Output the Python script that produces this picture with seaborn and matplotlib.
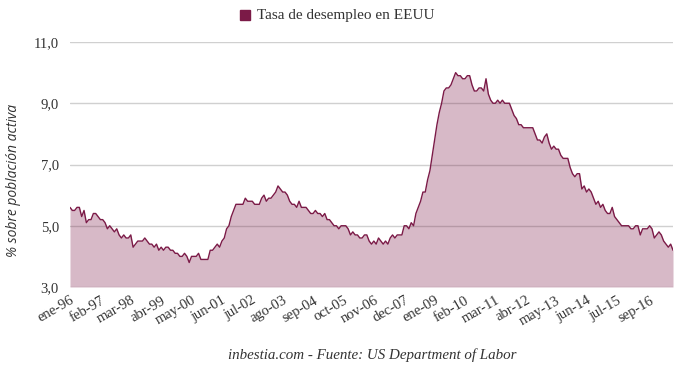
import numpy as np
import pandas as pd
import matplotlib
matplotlib.use("Agg")
import matplotlib.pyplot as plt
import seaborn as sns

# Monthly US unemployment rate, Jan 1996 - Jul 2017
rate = [
    5.6, 5.5, 5.5, 5.6, 5.6, 5.3, 5.5, 5.1, 5.2, 5.2, 5.4, 5.4,   # 1996
    5.3, 5.2, 5.2, 5.1, 4.9, 5.0, 4.9, 4.8, 4.9, 4.7, 4.6, 4.7,   # 1997
    4.6, 4.6, 4.7, 4.3, 4.4, 4.5, 4.5, 4.5, 4.6, 4.5, 4.4, 4.4,   # 1998
    4.3, 4.4, 4.2, 4.3, 4.2, 4.3, 4.3, 4.2, 4.2, 4.1, 4.1, 4.0,   # 1999
    4.0, 4.1, 4.0, 3.8, 4.0, 4.0, 4.0, 4.1, 3.9, 3.9, 3.9, 3.9,   # 2000
    4.2, 4.2, 4.3, 4.4, 4.3, 4.5, 4.6, 4.9, 5.0, 5.3, 5.5, 5.7,   # 2001
    5.7, 5.7, 5.7, 5.9, 5.8, 5.8, 5.8, 5.7, 5.7, 5.7, 5.9, 6.0,   # 2002
    5.8, 5.9, 5.9, 6.0, 6.1, 6.3, 6.2, 6.1, 6.1, 6.0, 5.8, 5.7,   # 2003
    5.7, 5.6, 5.8, 5.6, 5.6, 5.6, 5.5, 5.4, 5.4, 5.5, 5.4, 5.4,   # 2004
    5.3, 5.4, 5.2, 5.2, 5.1, 5.0, 5.0, 4.9, 5.0, 5.0, 5.0, 4.9,   # 2005
    4.7, 4.8, 4.7, 4.7, 4.6, 4.6, 4.7, 4.7, 4.5, 4.4, 4.5, 4.4,   # 2006
    4.6, 4.5, 4.4, 4.5, 4.4, 4.6, 4.7, 4.6, 4.7, 4.7, 4.7, 5.0,   # 2007
    5.0, 4.9, 5.1, 5.0, 5.4, 5.6, 5.8, 6.1, 6.1, 6.5, 6.8, 7.3,   # 2008
    7.8, 8.3, 8.7, 9.0, 9.4, 9.5, 9.5, 9.6, 9.8, 10.0, 9.9, 9.9,  # 2009
    9.8, 9.8, 9.9, 9.9, 9.6, 9.4, 9.4, 9.5, 9.5, 9.4, 9.8, 9.3,   # 2010
    9.1, 9.0, 9.0, 9.1, 9.0, 9.1, 9.0, 9.0, 9.0, 8.8, 8.6, 8.5,   # 2011
    8.3, 8.3, 8.2, 8.2, 8.2, 8.2, 8.2, 8.0, 7.8, 7.8, 7.7, 7.9,   # 2012
    8.0, 7.7, 7.5, 7.6, 7.5, 7.5, 7.3, 7.2, 7.2, 7.2, 6.9, 6.7,   # 2013
    6.6, 6.7, 6.7, 6.2, 6.3, 6.1, 6.2, 6.1, 5.9, 5.7, 5.8, 5.6,   # 2014
    5.7, 5.5, 5.4, 5.4, 5.6, 5.3, 5.2, 5.1, 5.0, 5.0, 5.0, 5.0,   # 2015
    4.9, 4.9, 5.0, 5.0, 4.7, 4.9, 4.9, 4.9, 5.0, 4.9, 4.6, 4.7,   # 2016
    4.8, 4.7, 4.5, 4.4, 4.3, 4.4, 4.2,                            # 2017
]
tick_labels = ["ene-96", "feb-97", "mar-98", "abr-99", "may-00", "jun-01",
               "jul-02", "ago-03", "sep-04", "oct-05", "nov-06", "dec-07",
               "ene-09", "feb-10", "mar-11", "abr-12", "may-13", "jun-14",
               "jul-15", "sep-16"]
tick_months = [0, 13, 26, 39, 52, 65, 78, 91, 104, 117, 130, 143,
               156, 169, 182, 195, 208, 221, 234, 248]
y_ticks = [3.0, 5.0, 7.0, 9.0, 11.0]

series_name = "Tasa de desempleo en EEUU"
df = pd.DataFrame({"mes": np.arange(len(rate)), "tasa": rate})

sns.set_theme(style="white")
plt.rcParams["font.family"] = ["Liberation Serif", "DejaVu Serif"]

color = "#7b1a47"
fig = plt.figure(figsize=(6.8, 3.7), dpi=100)
ax = fig.add_axes([70 / 680, 1 - 287 / 370, 603 / 680, 245 / 370])

for yt in y_ticks:
    ax.axhline(yt, color="#d0d0d0", lw=1, zorder=0)

ax.fill_between(df["mes"], df["tasa"], 3.0, color=color, alpha=0.3, lw=0, zorder=1)
sns.lineplot(data=df, x="mes", y="tasa", ax=ax, color=color, lw=1, zorder=2,
             legend=False)

ax.set_xlim(0, len(rate) - 1)
ax.set_ylim(3.0, 11.0)
ax.set_yticks(y_ticks)
ax.set_yticklabels([f"{v:.1f}".replace(".", ",") for v in y_ticks],
                   fontsize=10.5, color="#333333")
ax.set_xticks(tick_months)
ax.set_xticklabels(tick_labels, rotation=30, ha="right",
                   rotation_mode="anchor", fontsize=10.5, color="#333333")
ax.tick_params(axis="y", length=0, pad=8)
ax.tick_params(axis="x", length=0, pad=5)
for s in ax.spines.values():
    s.set_visible(False)
ax.set_xlabel("")
ax.set_ylabel("")
fig.text(14 / 680, 1 - 180 / 370, "% sobre población activa", rotation=90,
         fontsize=10, style="italic", family=["Open Sans", "DejaVu Sans"],
         color="#333333", ha="center", va="center")

# legend
fig.patches.append(plt.Rectangle((240 / 680, 1 - 20 / 370), 10 / 680, 10 / 370,
                                 transform=fig.transFigure, color=color))
fig.text(257 / 680, 1 - 15 / 370, series_name, fontsize=11,
         va="center", ha="left", color="#333333")

fig.text(372 / 680, 1 - 355 / 370, "inbestia.com - Fuente: US Department of Labor",
         fontsize=10.8, style="italic", ha="center", va="center", color="#333333")

fig.savefig("out.png", dpi=100)
